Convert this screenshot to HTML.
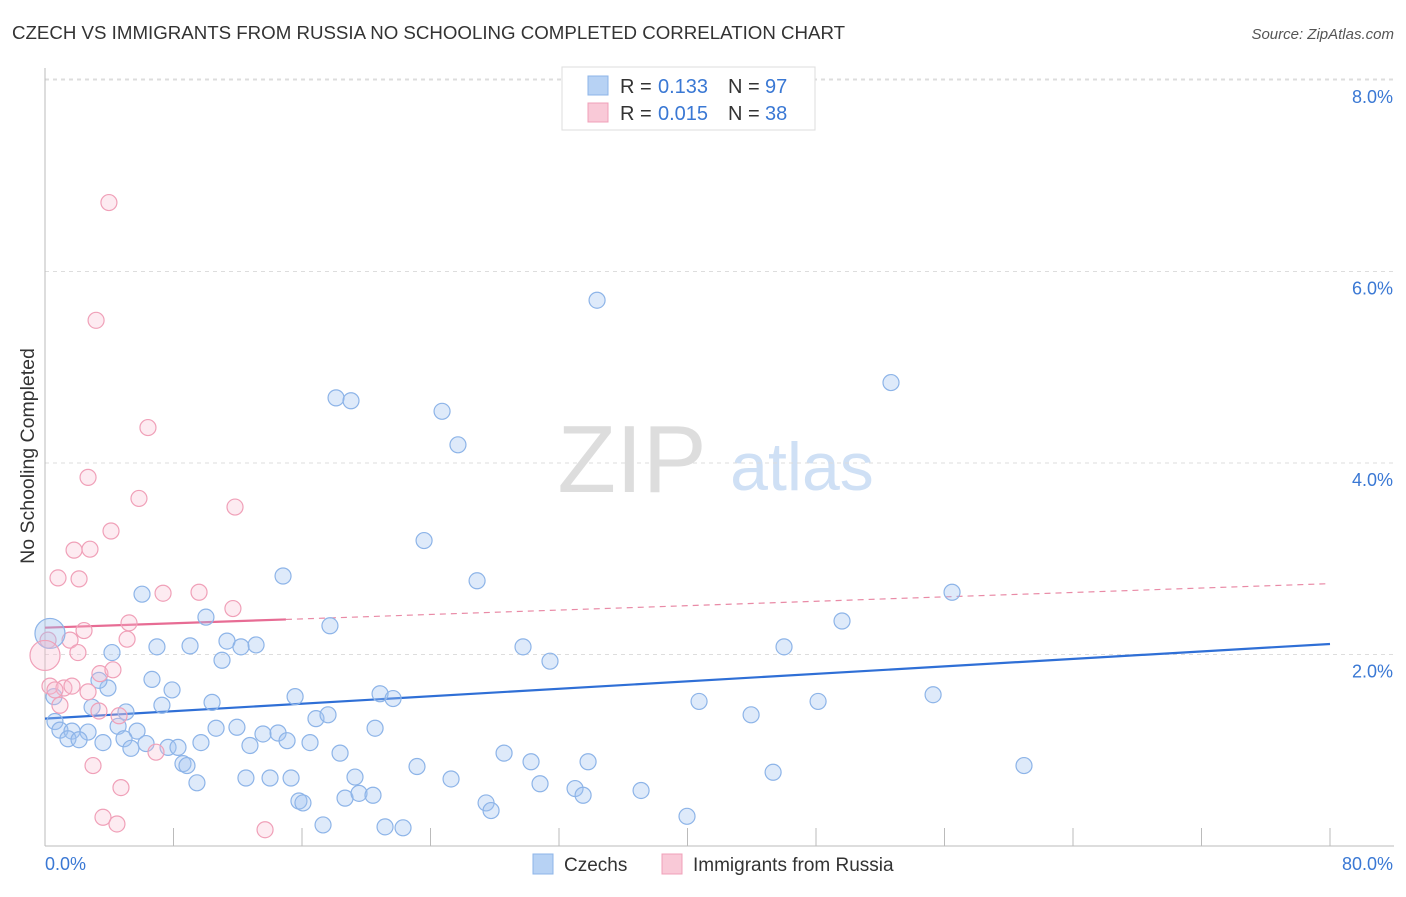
<!DOCTYPE html>
<html><head><meta charset="utf-8"><style>
body{margin:0;background:#fff;font-family:"Liberation Sans",sans-serif;}
svg text{font-family:"Liberation Sans",sans-serif;}
</style></head><body>
<svg id="chart" width="1406" height="892" viewBox="0 0 1406 892" xmlns="http://www.w3.org/2000/svg">
<text x="12" y="39" font-size="18.7" fill="#333">CZECH VS IMMIGRANTS FROM RUSSIA NO SCHOOLING COMPLETED CORRELATION CHART</text>
<text x="1394" y="39" font-size="15" fill="#555" text-anchor="end" font-style="italic">Source: ZipAtlas.com</text>
<text transform="translate(34,456) rotate(-90)" font-size="19.5" fill="#333" text-anchor="middle">No Schooling Completed</text>
<g>
<text x="632" y="492" font-size="96" fill="#ddd" text-anchor="middle" font-family="Liberation Serif,serif">ZIP</text>
<text x="802" y="490" font-size="68" fill="#cfe0f5" text-anchor="middle">atlas</text>
</g>
<g id="grid"></g><g id="axes"></g><g id="trends"></g><g id="points"></g>
<g>
<rect x="562" y="67" width="253" height="63" fill="#fff" stroke="#ddd"/>
<rect x="588" y="76" width="20" height="19" fill="#b7d2f4" stroke="#8db4e8"/>
<text x="620" y="93" font-size="20" fill="#333">R = </text><text x="658" y="93" font-size="20" fill="#3a78d4">0.133</text>
<text x="728" y="93" font-size="20" fill="#333">N = </text><text x="765" y="93" font-size="20" fill="#3a78d4">97</text>
<rect x="588" y="103" width="20" height="19" fill="#f9c9d7" stroke="#f0a0b8"/>
<text x="620" y="120" font-size="20" fill="#333">R = </text><text x="658" y="120" font-size="20" fill="#3a78d4">0.015</text>
<text x="728" y="120" font-size="20" fill="#333">N = </text><text x="765" y="120" font-size="20" fill="#3a78d4">38</text>
</g>
<g>
<rect x="533" y="854" width="20" height="20" fill="#b7d2f4" stroke="#8db4e8"/>
<text x="564" y="871" font-size="19" fill="#333">Czechs</text>
<rect x="662" y="854" width="20" height="20" fill="#f9c9d7" stroke="#f0a0b8"/>
<text x="693" y="871" font-size="19" fill="#333">Immigrants from Russia</text>
</g>
</svg>
<script>
const yTicks=[2,4,6,8];
const yTickLabels=["2.0%","4.0%","6.0%","8.0%"];
const xTicks=[0,8,16,24,32,40,48,56,64,72,80];
const xEndLabels=["0.0%","80.0%"];
const czX=[34.37,52.67,18.12,19.05,24.72,25.71,23.60,26.90,14.82,56.47,49.62,17.74,10.02,6.04,11.33,13.14,12.20,9.03,6.97,4.17,29.76,46.01,31.44,11.02,6.66,3.92,3.36,7.91,15.57,20.86,21.67,40.72,48.13,55.29,7.28,10.40,2.93,5.04,16.87,17.62,43.96,0.62,0.93,1.68,2.68,4.55,5.73,10.65,11.95,13.57,14.51,20.55,1.43,2.12,3.61,4.92,5.35,6.29,7.66,8.28,9.71,12.76,15.07,16.50,18.37,28.58,8.59,8.84,30.26,23.16,33.81,12.51,14.01,15.32,19.30,25.28,30.82,45.33,60.95,9.46,15.81,16.06,18.68,19.55,20.42,33.00,33.50,37.11,27.46,27.77,17.31,21.17,22.29,39.97,0.56];
const czY=[5.70,4.84,4.68,4.65,4.54,4.19,3.19,2.77,2.82,2.65,2.35,2.30,2.39,2.63,2.14,2.10,2.08,2.09,2.08,2.02,2.08,2.08,1.93,1.94,1.74,1.65,1.73,1.63,1.56,1.59,1.54,1.51,1.51,1.58,1.47,1.50,1.45,1.40,1.33,1.37,1.37,1.30,1.21,1.20,1.19,1.25,1.20,1.23,1.24,1.17,1.18,1.23,1.12,1.11,1.08,1.12,1.02,1.07,1.03,1.03,1.08,1.05,1.10,1.08,0.97,0.97,0.86,0.84,0.88,0.83,0.88,0.71,0.71,0.71,0.72,0.70,0.65,0.77,0.84,0.66,0.47,0.45,0.50,0.55,0.53,0.60,0.53,0.58,0.45,0.37,0.22,0.20,0.19,0.31,1.56];
const ruX=[3.98,3.18,6.41,2.68,5.85,11.83,4.11,1.81,2.80,0.81,2.12,7.35,9.59,11.70,5.23,2.43,5.11,1.56,2.05,3.42,4.23,0.31,1.18,1.68,0.62,2.68,0.93,3.36,4.61,6.91,2.99,4.73,3.61,4.48,13.70,0.19];
const ruY=[6.72,5.49,4.37,3.85,3.63,3.54,3.29,3.09,3.10,2.80,2.79,2.64,2.65,2.48,2.33,2.25,2.16,2.15,2.02,1.80,1.84,1.67,1.65,1.67,1.63,1.61,1.47,1.41,1.36,0.98,0.84,0.61,0.30,0.23,0.17,2.15];
const bigX=[0.31,0];
const bigY=[2.22,1.99];
const czTrend=[1.33,2.11];
const ruTrend=[2.28,2.74];
const ruSolidEnd=15;

const NS="http://www.w3.org/2000/svg";
const X0=45,X1=1330,Y0=846,YPER=95.75;
function sx(v){return X0+(X1-X0)*v/80;}
function sy(v){return Y0-v*YPER;}
function mk(tag,attrs,parent){const e=document.createElementNS(NS,tag);for(const k in attrs)e.setAttribute(k,attrs[k]);parent.appendChild(e);return e;}
const grid=document.getElementById('grid'),axes=document.getElementById('axes'),trends=document.getElementById('trends'),pts=document.getElementById('points');
yTicks.forEach((t,i)=>{
  const l=mk('line',{x1:X0,x2:1394,y1:sy(t),y2:sy(t),stroke:'#ddd','stroke-dasharray':'4,4'},grid);
  
  
  const tx=mk('text',{x:1393,y:sy(t)+23,'font-size':18,fill:'#3a78d4','text-anchor':'end'},grid);
  tx.textContent=yTickLabels[i];
  
  
});
const tl=mk('line',{x1:X0,x2:1394,y1:79,y2:79,stroke:'#ddd','stroke-dasharray':'4,4'},grid);


const ya=mk('line',{x1:X0,x2:X0,y1:68,y2:Y0,stroke:'#bbb'},axes);


const xa=mk('line',{x1:X0,x2:1394,y1:Y0,y2:Y0,stroke:'#bbb'},axes);


xTicks.forEach(t=>{
  const l=mk('line',{x1:sx(t),x2:sx(t),y1:828,y2:Y0,stroke:'#bbb'},axes);
  
  
});
[[0,'start',45],[80,'end',1393]].forEach((a,i)=>{
  const tx=mk('text',{x:a[2],y:870,'font-size':18,fill:'#3a78d4','text-anchor':a[1]},axes);
  tx.textContent=xEndLabels[i];
  
  
});
czX.forEach((x,i)=>{
  const c=mk('circle',{cx:sx(x),cy:sy(czY[i]),r:8,fill:'rgba(160,196,240,0.35)',stroke:'#8db4e8','stroke-width':1.2},pts);
  
  
});
ruX.forEach((x,i)=>{
  const c=mk('circle',{cx:sx(x),cy:sy(ruY[i]),r:8,fill:'rgba(249,190,210,0.3)',stroke:'#f0a0b8','stroke-width':1.2},pts);
  
  
});
bigX.forEach((x,i)=>{
  const c=mk('circle',{cx:sx(x),cy:sy(bigY[i]),r:15,fill:i?'rgba(249,190,210,0.35)':'rgba(160,196,240,0.4)',stroke:i?'#f0a0b8':'#8db4e8','stroke-width':1.2},pts);
  
  
});
const bt=mk('line',{x1:sx(0),y1:sy(czTrend[0]),x2:sx(80),y2:sy(czTrend[1]),stroke:'#2f6fd6','stroke-width':2.2},trends);


function ruAt(x){return ruTrend[0]+(ruTrend[1]-ruTrend[0])*x/80;}
const pd=mk('line',{x1:sx(ruSolidEnd),y1:sy(ruAt(ruSolidEnd)),x2:sx(80),y2:sy(ruTrend[1]),stroke:'#e98aa6','stroke-width':1.2,'stroke-dasharray':'6,5'},trends);


const ps=mk('line',{x1:sx(0),y1:sy(ruTrend[0]),x2:sx(ruSolidEnd),y2:sy(ruAt(ruSolidEnd)),stroke:'#e76c94','stroke-width':2.2},trends);


</script>
</body></html>
